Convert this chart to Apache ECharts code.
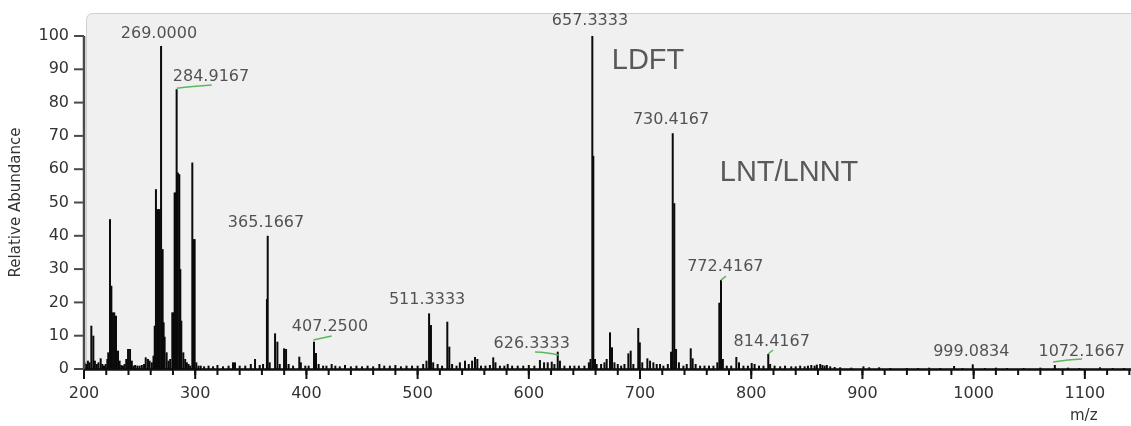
<!DOCTYPE html>
<html>
<head>
<meta charset="utf-8">
<script src="https://cdn.jsdelivr.net/npm/echarts@6/dist/echarts.min.js"></script>
<style>
  html, body { margin: 0; padding: 0; background: #fff; }
  #chart { width: 1131px; height: 426px; }
</style>
</head>
<body>
<div id="chart"></div>
<script>
// m/z, relative abundance
const peaksLow = [
  [200.5, 2], [202, 1.5], [203.5, 2.5], [205, 2], [206.6, 13], [208.4, 10], [209.8, 2.5],
  [211.5, 1.5], [213, 2], [215, 3.2], [216.5, 1.5], [218, 1], [219.5, 1.5], [221, 3],
  [221.8, 5], [223.4, 45], [224.6, 25], [226, 17], [227.2, 17], [228.8, 16], [230.6, 5.5],
  [232, 2.5], [233.5, 1.2], [235, 1], [236.5, 1.5], [238, 3], [239.6, 6], [241.4, 6],
  [243, 2.5], [244.5, 1], [246, 1.2], [248, 1], [250, 1], [252, 1.2], [254, 1.5],
  [255.5, 3.5], [257.5, 3], [259, 2.5], [261, 2], [262.5, 4], [263.6, 13], [264.7, 54],
  [265.8, 48], [266.8, 48], [268, 48], [269.3, 97], [270.7, 36], [271.6, 14], [272.5, 9.7],
  [274.3, 5], [276, 2.5], [277.5, 3], [279.4, 17], [280.5, 17], [281.5, 53], [282.5, 53],
  [283.3, 84], [284.4, 59], [285.7, 58.5], [286.6, 30], [287.5, 14.5], [289.3, 5], [291, 3],
  [292.5, 2], [294, 1.5], [295.5, 1], [297.4, 62], [298.5, 39], [299.5, 39], [301, 2]
];
const peaksMid = [
  [303, 1], [305, 1], [308, 0.8], [312, 1], [316, 0.8], [320, 1.2], [325, 0.8], [330, 1],
  [334, 2], [335.8, 2], [340, 1], [345, 1], [350, 1.5], [353.8, 3], [358, 1.2], [361, 1.5],
  [364.5, 21], [365.2, 40], [367, 2], [371.8, 10.7], [373.9, 8.2], [376, 1.5], [379.9, 6.2],
  [381.7, 6], [384, 1.5], [388, 1], [393.6, 3.7], [395, 2], [399, 1], [402, 1], [406.8, 8.2],
  [408.6, 4.8], [411, 1.5], [415, 1], [418, 1], [422.7, 1.5], [426, 1], [430, 0.8],
  [434.7, 1.2], [440, 0.8], [445, 1], [450, 0.8], [455, 1], [460, 0.8], [465.6, 1.5],
  [470, 1], [475, 1], [480, 1.2], [485, 0.8], [490, 1], [495, 1], [500, 1], [505, 1.5],
  [508, 2.5], [510.3, 16.7], [512, 13.2], [514, 2], [518, 1.5], [522, 1], [526.7, 14.2],
  [528.5, 6.7], [531, 1.5], [535, 1], [538, 2], [542.6, 2.5], [546, 1.5], [549, 2.5],
  [551.6, 3.6], [553.7, 3], [557, 1], [561, 1], [565, 1.2], [568, 3.5], [570, 2], [574, 1],
  [578, 1], [581, 1.5], [585, 1], [590, 1], [595, 1], [600, 1.2], [605, 1], [610, 2.7],
  [613.7, 2], [617, 2], [620.6, 2.2], [623, 1.5], [626, 5.2], [628, 2.5], [632, 1], [637, 1],
  [641, 1], [645, 1], [650, 1], [654, 2], [655.5, 3], [657.1, 100], [658, 64], [659.5, 3]
];
const peaksHigh = [
  [661, 1.5], [665, 1.5], [668, 2], [670, 3], [673, 11], [674.8, 6.5], [677, 2], [680, 1.5],
  [683, 1], [686, 1.5], [689.5, 4.7], [691.6, 5.5], [694, 1.5], [698.4, 12.3], [699.8, 8],
  [702, 2], [706.6, 3.2], [709, 2.5], [712, 2], [715, 1.5], [718, 1.5], [721, 1], [725, 1.5],
  [727.9, 5.2], [729.4, 70.8], [730.8, 49.8], [732.4, 6], [735, 2], [739, 1], [742, 1.5],
  [745.6, 6.2], [747.3, 3.2], [750, 1.5], [754, 1], [758, 1], [762, 1], [766, 1], [769.5, 2],
  [771.3, 19.9], [772.8, 26.7], [774.5, 3], [778, 1], [782, 1], [786.6, 3.6], [789, 2],
  [793, 1], [797, 1], [800.4, 1.8], [803, 1.5], [807, 1], [811, 1], [815.3, 4.5], [817, 1.5],
  [821, 1], [826, 0.8], [830.4, 1], [836, 0.8], [840, 0.8], [844, 1], [848, 0.8], [851, 1],
  [854, 1.2], [857, 1], [859, 1.3], [862, 1.5], [864, 1.2], [866, 1], [868, 1.2], [871, 0.8],
  [875, 0.6], [880, 0.5], [890, 0.4], [900.9, 0.8], [906, 0.5], [915, 0.5], [925, 0.3],
  [940, 0.3], [950, 0.3], [960, 0.4], [970, 0.3], [982.4, 0.9], [990, 0.3], [999.2, 1.4],
  [1010, 0.3], [1020, 0.4], [1030, 0.3], [1045, 0.3], [1060, 0.4], [1073, 1.2], [1085, 0.4],
  [1095, 0.3], [1113.6, 0.5], [1125, 0.3], [1135, 0.3]
];

// annotation text, anchored at [m/z, abundance] of the text centre
const peakLabels = [
  [267.4, 100.6, '269.0000'],
  [314.2, 87.7, '284.9167'],
  [363.7, 43.8, '365.1667'],
  [421.2, 12.6, '407.2500'],
  [508.5, 20.7, '511.3333'],
  [602.6, 7.5, '626.3333'],
  [655.0, 104.6, '657.3333'],
  [727.9, 74.8, '730.4167'],
  [776.7, 30.7, '772.4167'],
  [818.4, 8.2, '814.4167'],
  [997.9, 5.2, '999.0834'],
  [1097.2, 5.2, '1072.1667']
];
const compoundLabels = [
  [707.2, 92.5, 'LDFT'],
  [834.0, 58.9, 'LNT/LNNT']
];

// green leader marks from labels to peaks
const leaders = [
  [[283.4, 84.3], [298.0, 84.8], [314.8, 85.3]],
  [[406.2, 8.7], [422.7, 9.9]],
  [[605.6, 5.1], [616.4, 4.8], [626.5, 4.2]],
  [[772.8, 26.7], [777.3, 27.9]],
  [[815.1, 4.5], [819.6, 5.7]],
  [[1071.4, 2.1], [1084.9, 2.7], [1097.5, 3.0]]
];

const xMin = 200;
const xMax = 1141.5;
const yMax = 100;
const xMajorTicks = [200, 300, 400, 500, 600, 700, 800, 900, 1000, 1100];
const xMinorTicks = [];
for (let v = 200; v <= 1140; v += 20) xMinorTicks.push(v);
const yTicks = [0, 10, 20, 30, 40, 50, 60, 70, 80, 90, 100];

const numFont = 'DejaVu Sans';
const chart = echarts.init(document.getElementById('chart'), null, { renderer: 'canvas' });

// small tick strokes, placed through the axes' own coordinate mapping
function tickSeries(values, dir, len, color) {
  return {
    type: 'custom',
    silent: true,
    clip: false,
    z: 6,
    data: values.map((v) => (dir === 'x' ? [v, 0] : [xMin, v])),
    renderItem: (params, api) => {
      const p = api.coord([api.value(0), api.value(1)]);
      const shape = dir === 'x'
        ? { x1: p[0], y1: p[1], x2: p[0], y2: p[1] + len }
        : { x1: p[0] - len, y1: p[1], x2: p[0], y2: p[1] };
      return { type: 'line', shape, style: { stroke: color, lineWidth: 2 } };
    }
  };
}

chart.setOption({
  animation: false,
  backgroundColor: '#ffffff',
  grid: { left: 84, right: 0, top: 36, bottom: 57, show: false },
  xAxis: {
    type: 'value', min: xMin, max: xMax, interval: 100,
    axisLine: { show: true, onZero: false, lineStyle: { color: '#111', width: 2.5 } },
    axisTick: { show: false },
    axisLabel: {
      margin: 17, fontFamily: numFont, fontSize: 16, color: '#333',
      showMaxLabel: false,
      formatter: (v) => (v % 100 === 0 ? String(v) : '')
    },
    splitLine: { show: false }
  },
  yAxis: {
    type: 'value', min: 0, max: yMax, interval: 10,
    name: 'Relative Abundance',
    nameLocation: 'middle',
    nameRotate: 90,
    nameGap: 60,
    nameTextStyle: { fontFamily: numFont, fontSize: 15, color: '#333' },
    axisLine: { show: false },
    axisTick: { show: false },
    axisLabel: { margin: 15, fontFamily: numFont, fontSize: 16, color: '#333' },
    splitLine: { show: false }
  },
  series: [
    {
      type: 'bar',
      name: 'spectrum',
      data: peaksLow.concat(peaksMid, peaksHigh),
      barWidth: 2,
      itemStyle: { color: '#0a0a0a' },
      silent: true
    },
    {
      // left axis line, 0 to 100 only
      type: 'line',
      data: [[xMin, 0], [xMin, 100]],
      symbol: 'none',
      silent: true,
      clip: false,
      z: 6,
      lineStyle: { color: '#4a4a4a', width: 2.5 }
    },
    tickSeries(xMinorTicks, 'x', 6, '#111'),
    tickSeries(xMajorTicks, 'x', 10, '#111'),
    tickSeries(yTicks, 'y', 10, '#4a4a4a'),
    ...leaders.map((pts) => ({
      type: 'line',
      data: pts,
      showSymbol: false,
      symbol: 'none',
      smooth: true,
      silent: true,
      z: 4,
      lineStyle: { color: '#5cb85c', width: 1.5 }
    })),
    {
      type: 'scatter',
      data: peakLabels,
      symbolSize: 0,
      silent: true,
      z: 5,
      clip: false,
      label: {
        show: true, position: 'inside',
        formatter: (p) => p.data[2],
        fontFamily: numFont, fontSize: 16, color: '#2b2b2b'
      }
    },
    {
      type: 'scatter',
      data: compoundLabels,
      symbolSize: 0,
      silent: true,
      z: 5,
      clip: false,
      label: {
        show: true, position: 'inside',
        formatter: (p) => p.data[2],
        fontFamily: 'Liberation Sans', fontSize: 29, color: '#333'
      }
    }
  ],
  graphic: [
    {
      // plot panel background, reaching above the 100 % line
      type: 'rect', z: -10, silent: true,
      shape: { x: 86.5, y: 13.5, width: 1050, height: 355, r: [6, 0, 0, 0] },
      style: { fill: '#f0f0f0', stroke: '#cfcfcf', lineWidth: 1 }
    },
    {
      type: 'text', left: 1070, top: 409,
      style: { text: 'm/z', font: '15px "DejaVu Sans"', fill: '#333' }
    }
  ]
});
</script>
</body>
</html>
